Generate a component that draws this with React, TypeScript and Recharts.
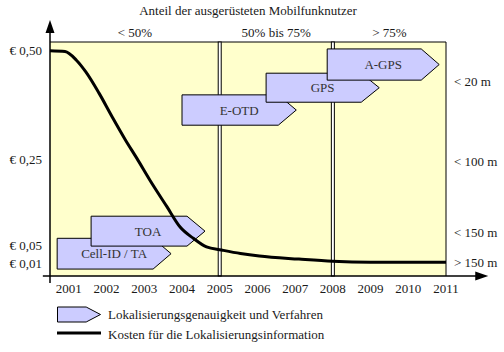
import {
  ComposedChart,
  Line,
  XAxis,
  YAxis,
  CartesianGrid,
  ReferenceArea,
  ReferenceLine,
} from 'recharts';

const FONT = "'Liberation Serif', 'Times New Roman', serif";
const TEXT = '#1a1a1a';
const BG = '#ffffcc';
const BOX = '#ccccff';

// cost curve (€ per location request)
const costYears = [2000.5, 2000.9, 2001.2, 2001.45, 2001.8, 2002.15, 2002.5, 2002.8, 2003.15, 2003.6, 2003.95, 2004.3, 2004.65, 2005.05, 2005.55, 2006.05, 2007.1, 2008.0, 2009, 2010, 2011];
const costValues = [0.5, 0.498, 0.478, 0.451, 0.402, 0.347, 0.294, 0.252, 0.201, 0.14, 0.093, 0.067, 0.047, 0.04, 0.032, 0.026, 0.019, 0.014, 0.012, 0.012, 0.012];

const yearTicks = [2001, 2002, 2003, 2004, 2005, 2006, 2007, 2008, 2009, 2010, 2011];
const costTicks = [0.01, 0.05, 0.25, 0.5];

// right hand accuracy scale
const accuracyLabels = ['< 20 m', '< 100 m', '< 150 m', '> 150 m'];
const accuracyLevels = [0.43, 0.244, 0.08, 0.012];

// share of equipped users
const shareLabels = ['< 50%', '50% bis 75%', '> 75%'];
const shareFrom = [2000.5, 2005, 2008];
const shareTo = [2005, 2008, 2011];

// methods (arrow boxes)
const methodNames = ['Cell-ID / TA', 'TOA', 'E-OTD', 'GPS', 'A-GPS'];
const methodStart = [2000.69, 2001.59, 2004.0, 2006.23, 2007.85];
const methodEnd = [2003.71, 2004.61, 2007.03, 2009.23, 2010.82];
const methodTop = [0.067, 0.118, 0.398, 0.448, 0.504];
const methodBottom = [-0.004, 0.049, 0.328, 0.381, 0.432];

const X_MIN = 2000.5;
const X_MAX = 2011;
const Y_MIN = -0.02;
const Y_MAX = 0.52;

const data = costYears.map((year, i) => ({ year, cost: costValues[i] }));

function arrowPath(x: number, y: number, w: number, h: number) {
  const tip = Math.min(18, w / 3);
  return `M${x},${y} H${x + w - tip} L${x + w},${y + h / 2} L${x + w - tip},${y + h} H${x} Z`;
}

function MethodArrow(props: any) {
  const { x, y, width, height, text } = props;
  return (
    <g>
      <path d={arrowPath(x, y, width, height)} fill={BOX} stroke="#000" strokeWidth={1} />
      <text
        x={x + width / 2}
        y={y + height / 2}
        textAnchor="middle"
        dominantBaseline="central"
        fontFamily={FONT}
        fontSize={13}
        fill="#333"
      >
        {text}
      </text>
    </g>
  );
}

function Divider(props: any) {
  const { x1, y1, y2 } = props;
  return (
    <rect x={x1 - 1.5} y={Math.min(y1, y2)} width={3} height={Math.abs(y2 - y1)} fill="#fff" stroke="#000" strokeWidth={1} />
  );
}

function AxisArrow(props: any) {
  const { x1, y1, x2, y2 } = props;
  const horizontal = Math.abs(y2 - y1) < 1;
  const head = horizontal
    ? `M${x2},${y2} L${x2 - 13},${y2 - 4.5} L${x2 - 13},${y2 + 4.5} Z`
    : `M${x2},${y2} L${x2 - 4.5},${y2 + 13} L${x2 + 4.5},${y2 + 13} Z`;
  return (
    <g>
      <line x1={x1} y1={y1} x2={horizontal ? x2 - 10 : x2} y2={horizontal ? y2 : y2 + 10} stroke="#000" strokeWidth={1.5} />
      <path d={head} fill="#000" />
    </g>
  );
}

const euro = (v: number) => '€ ' + v.toFixed(2).replace('.', ',');
const accuracyText = (v: number) => {
  const i = accuracyLevels.indexOf(v);
  return i >= 0 ? accuracyLabels[i] : '';
};

export default function App() {
  return (
    <div style={{ position: 'absolute', left: 0, top: 0, width: 504, height: 352, background: '#fff', fontFamily: FONT, color: TEXT }}>
      <div style={{ position: 'absolute', left: 0, width: 496, top: 3, textAlign: 'center', fontSize: 13 }}>
        Anteil der ausgerüsteten Mobilfunknutzer
      </div>
      <ComposedChart width={504} height={352} data={data} margin={{ top: 42, right: 0, bottom: 0, left: 0 }}>
        <CartesianGrid fill={BG} horizontal={false} vertical={false} />
        <XAxis
          dataKey="year"
          type="number"
          domain={[X_MIN, X_MAX]}
          ticks={yearTicks}
          interval={0}
          height={76}
          axisLine={false}
          tickLine={false}
          tick={{ fontFamily: FONT, fontSize: 13, fill: TEXT }}
        />
        <YAxis
          domain={[Y_MIN, Y_MAX]}
          ticks={costTicks}
          interval={0}
          width={50}
          axisLine={false}
          tickLine={false}
          tickFormatter={euro}
          tick={{ fontFamily: FONT, fontSize: 13, fill: TEXT }}
          allowDataOverflow
        />
        <YAxis
          yAxisId="acc"
          orientation="right"
          domain={[Y_MIN, Y_MAX]}
          ticks={accuracyLevels}
          interval={0}
          width={58}
          axisLine={{ stroke: '#000', strokeWidth: 1 }}
          tickLine={false}
          tickFormatter={accuracyText}
          tick={{ fontFamily: FONT, fontSize: 13, fill: TEXT }}
          allowDataOverflow
        />
        <ReferenceLine y={Y_MAX} stroke="#000" strokeWidth={1} zIndex={40} />
        {shareLabels.map((label, i) => (
          <ReferenceArea
            key={label}
            x1={shareFrom[i]}
            x2={shareTo[i]}
            y1={Y_MIN}
            y2={Y_MAX}
            fill="none"
            stroke="none"
            zIndex={30}
            label={{ value: label, position: 'top', fontFamily: FONT, fontSize: 13, fill: TEXT, offset: 5 }}
          />
        ))}
        {[2005, 2008].map((x) => (
          <ReferenceLine key={x} x={x} shape={(p: any) => <Divider {...p} />} zIndex={50} />
        ))}
        {methodNames.map((name, i) => (
          <ReferenceArea
            key={name}
            x1={methodStart[i]}
            x2={methodEnd[i]}
            y1={methodBottom[i]}
            y2={methodTop[i]}
            zIndex={150 + i}
            shape={(p: any) => <MethodArrow {...p} text={name} />}
          />
        ))}
        <Line
          dataKey="cost"
          type="monotone"
          stroke="#000"
          strokeWidth={3}
          dot={false}
          activeDot={false}
          isAnimationActive={false}
        />
        <ReferenceLine
          segment={[{ x: 2000.31, y: Y_MIN }, { x: 2012.12, y: Y_MIN }]}
          ifOverflow="visible"
          shape={(p: any) => <AxisArrow {...p} />}
          zIndex={500}
        />
        <ReferenceLine
          segment={[{ x: X_MIN, y: -0.036 }, { x: X_MIN, y: 0.571 }]}
          ifOverflow="visible"
          shape={(p: any) => <AxisArrow {...p} />}
          zIndex={500}
        />
      </ComposedChart>
      <svg style={{ position: 'absolute', left: 57, top: 306 }} width={44} height={32}>
        <path d={arrowPath(0.5, 1, 43, 15)} fill={BOX} stroke="#000" strokeWidth={1} />
        <line x1={0} y1={27} x2={44} y2={27} stroke="#000" strokeWidth={3} />
      </svg>
      <div style={{ position: 'absolute', left: 108, top: 305, fontSize: 13, lineHeight: '20px' }}>
        <div>Lokalisierungsgenauigkeit und Verfahren</div>
        <div>Kosten für die Lokalisierungsinformation</div>
      </div>
    </div>
  );
}
